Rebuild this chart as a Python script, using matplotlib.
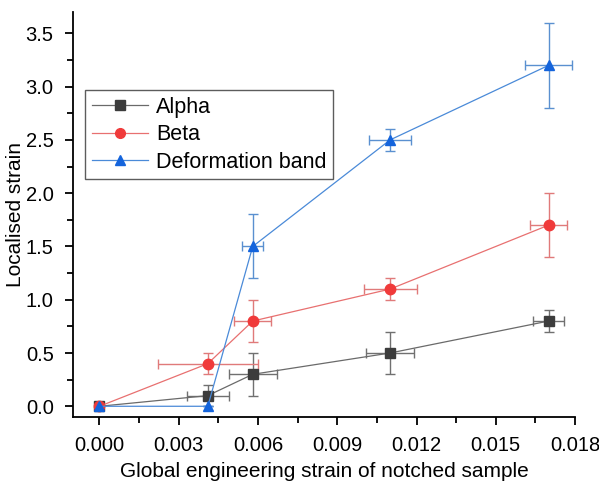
import numpy as np
import matplotlib
matplotlib.use("Agg")
import matplotlib.pyplot as plt
from matplotlib.ticker import MultipleLocator

plt.rcParams['font.family'] = ['Liberation Sans', 'DejaVu Sans']

x = [0.0, 0.0041, 0.0058, 0.011, 0.017]

alpha_y = [0.0, 0.1, 0.3, 0.5, 0.8]
alpha_yerr = [0.0, 0.1, 0.2, 0.2, 0.1]
alpha_xerr = [0.0, 0.0008, 0.0009, 0.0009, 0.0006]

beta_y = [0.0, 0.4, 0.8, 1.1, 1.7]
beta_yerr = [0.0, 0.1, 0.2, 0.1, 0.3]
beta_xerr = [0.0, 0.0019, 0.0007, 0.001, 0.0007]

band_y = [0.0, 0.0, 1.5, 2.5, 3.2]
band_yerr = [0.0, 0.0, 0.3, 0.1, 0.4]
band_xerr = [0.0, 0.0, 0.0004, 0.0008, 0.0009]

series = [
    ("Alpha", alpha_y, alpha_xerr, alpha_yerr, "s", 6.5, "#3c3c3c", "#6a6a6a", "#707070"),
    ("Beta", beta_y, beta_xerr, beta_yerr, "o", 7.5, "#f03a3a", "#e87070", "#e07a7a"),
    ("Deformation band", band_y, band_xerr, band_yerr, "^", 7.5, "#1464dc", "#4a8ad8", "#5a90d0"),
]

fig = plt.figure(figsize=(5.99, 4.82), dpi=100)
ax = fig.add_axes([0.122, 0.135, 0.838, 0.84])

for label, y, xe, ye, mk, ms, mcol, lcol, ecol in series:
    ax.errorbar(x, y, xerr=xe, yerr=ye, fmt="none", ecolor=ecol,
                elinewidth=1.0, capsize=3.5, capthick=1.0, zorder=2)
    ax.plot(x, y, color=lcol, linewidth=0.9, marker=mk, markersize=ms,
            markerfacecolor=mcol, markeredgecolor=mcol, label=label, zorder=3)

ax.set_xlim(-0.001, 0.018)
ax.set_ylim(-0.1, 3.7)
ax.xaxis.set_major_locator(MultipleLocator(0.003))
ax.xaxis.set_minor_locator(MultipleLocator(0.0015))
ax.yaxis.set_major_locator(MultipleLocator(0.5))
ax.yaxis.set_minor_locator(MultipleLocator(0.25))
ax.xaxis.set_major_formatter(plt.FuncFormatter(lambda v, p: f"{v:.3f}"))
ax.yaxis.set_major_formatter(plt.FuncFormatter(lambda v, p: f"{v:.1f}"))

for s in ["top", "right"]:
    ax.spines[s].set_visible(False)
for s in ["left", "bottom"]:
    ax.spines[s].set_linewidth(1.3)
ax.tick_params(which="major", direction="out", length=6, width=1.3, labelsize=14.5, pad=8)
ax.tick_params(which="minor", direction="out", length=4, width=1.3)

ax.set_xlabel("Global engineering strain of notched sample", fontsize=15, labelpad=5)
ax.set_ylabel("Localised strain", fontsize=15)
ax.yaxis.set_label_coords(-0.095, 0.5)

leg = ax.legend(loc="upper left", bbox_to_anchor=(0.024, 0.807), fontsize=15.5,
                frameon=True, fancybox=False, edgecolor="#333333", handlelength=2.6,
                handletextpad=0.4, borderpad=0.3, labelspacing=0.3, borderaxespad=0)
leg.get_frame().set_linewidth(1.0)
for h in leg.legend_handles:
    h.set_markersize(7)

fig.savefig("out.png", dpi=100)
